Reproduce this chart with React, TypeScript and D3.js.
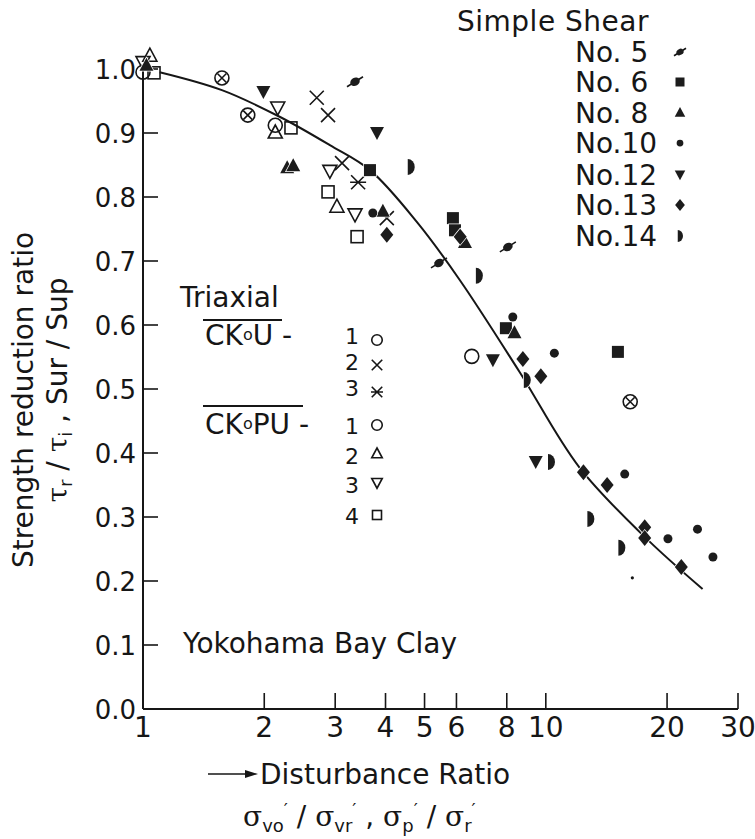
import React from 'react';
import * as d3 from 'd3';

const W = 755;
const H = 839;
const FONT = "'DejaVu Sans', 'Liberation Sans', sans-serif";
const INK = '#161616';

// axis ticks
const xTicks = [2, 3, 4, 5, 6, 8, 10, 20, 30];
const xTickLabels = ['2', '3', '4', '5', '6', '8', '10', '20', '30'];
const yTicks = [0, 0.1, 0.2, 0.3, 0.4, 0.5, 0.6, 0.7, 0.8, 0.9, 1.0];
const yTickLabels = ['0.0', '0.1', '0.2', '0.3', '0.4', '0.5', '0.6', '0.7', '0.8', '0.9', '1.0'];

// Triaxial series [disturbance ratio, strength ratio]
const ckoU1: [number, number][] = [[1.0, 0.995], [2.13, 0.912], [6.55, 0.551]];
const ckoU2: [number, number][] = [[2.7, 0.955], [2.88, 0.928], [3.12, 0.853], [4.03, 0.767]];
const ckoU3: [number, number][] = [[3.42, 0.823]];
const ckoPU1: [number, number][] = [];
const ckoPU2: [number, number][] = [[1.04, 1.02], [2.13, 0.9], [3.03, 0.784]];
const ckoPU3: [number, number][] = [[1.0, 1.01], [2.16, 0.939], [2.91, 0.84], [3.36, 0.772]];
const ckoPU4: [number, number][] = [[1.065, 0.994], [2.33, 0.908], [2.88, 0.808], [3.4, 0.738]];
const circledCross: [number, number][] = [[1.57, 0.986], [1.82, 0.928], [16.2, 0.48]];

// Simple shear series
const no5: [number, number][] = [[3.36, 0.98], [5.43, 0.697], [8.05, 0.722]];
const no6: [number, number][] = [[3.66, 0.842], [5.88, 0.767], [5.95, 0.748], [7.96, 0.595], [15.1, 0.558]];
const no8: [number, number][] = [[1.02, 1.005], [2.28, 0.845], [2.36, 0.848], [3.94, 0.777], [6.3, 0.728], [8.36, 0.587]];
const no10: [number, number][] = [[3.72, 0.775], [8.28, 0.6125], [10.5, 0.556], [15.7, 0.367], [20.1, 0.266], [23.8, 0.281], [26.0, 0.2375]];
const no12: [number, number][] = [[1.99, 0.964], [3.81, 0.9], [7.39, 0.545], [9.44, 0.386]];
const no13: [number, number][] = [[4.03, 0.741], [6.13, 0.738], [8.77, 0.547], [9.72, 0.52], [12.4, 0.37], [14.2, 0.35], [17.6, 0.284], [17.6, 0.267], [21.7, 0.222]];
const no14: [number, number][] = [[4.62, 0.847], [6.82, 0.677], [8.97, 0.514], [10.3, 0.386], [12.9, 0.297], [15.4, 0.252]];
const speck: [number, number][] = [[16.4, 0.205]];

// fitted curve
const curvePts: [number, number][] = [
  [1.1, 0.995], [1.57, 0.967], [2.19, 0.925], [2.91, 0.881], [3.66, 0.842],
  [4.8, 0.76], [6.12, 0.67], [8.6, 0.527], [12.1, 0.378], [17.6, 0.269], [24.5, 0.1875],
];

const triaxialLabels = ['1', '2', '3', '1', '2', '3', '4'];
const triaxialSymbols = ['circle', 'cross', 'asterisk', 'circle', 'triUp', 'triDown', 'square'];
const shearLabels = ['No. 5', 'No. 6', 'No. 8', 'No.10', 'No.12', 'No.13', 'No.14'];
const shearSymbols = ['planet', 'sqF', 'triUpF', 'dotF', 'triDownF', 'diamondF', 'halfF'];

const seriesList: { data: [number, number][]; sym: string }[] = [
  { data: ckoU1, sym: 'circle' },
  { data: ckoU2, sym: 'cross' },
  { data: ckoU3, sym: 'asterisk' },
  { data: ckoPU1, sym: 'circle' },
  { data: ckoPU2, sym: 'triUp' },
  { data: ckoPU3, sym: 'triDown' },
  { data: ckoPU4, sym: 'square' },
  { data: circledCross, sym: 'circleX' },
  { data: no5, sym: 'planet' },
  { data: no6, sym: 'sqF' },
  { data: no8, sym: 'triUpF' },
  { data: no10, sym: 'dotF' },
  { data: no12, sym: 'triDownF' },
  { data: no13, sym: 'diamondF' },
  { data: no14, sym: 'halfF' },
  { data: speck, sym: 'speck' },
];

function Marker({ type, cx, cy, s = 1 }: { type: string; cx: number; cy: number; s?: number }) {
  const sw = 1.6;
  const t = `translate(${cx},${cy}) scale(${s})`;
  const open = { fill: 'none', stroke: INK, strokeWidth: sw / s };
  const filled = { fill: '#1c1c1c', stroke: 'white', strokeWidth: 1.5 / s, paintOrder: 'stroke' as any };
  switch (type) {
    case 'circle':
      return <circle transform={t} r={7} {...open} />;
    case 'circleX':
      return (
        <g transform={t} {...open}>
          <circle r={7} />
          <path d="M-4.5,-4.5L4.5,4.5M-4.5,4.5L4.5,-4.5" />
        </g>
      );
    case 'triUp':
      return <path transform={t} d="M0,-8L7,5L-7,5Z" {...open} />;
    case 'triDown':
      return <path transform={t} d="M0,7L7,-6L-7,-6Z" {...open} />;
    case 'square':
      return <rect transform={t} x={-6} y={-6} width={12} height={12} {...open} />;
    case 'cross':
      return <path transform={t} d="M-7,-7L7,7M-7,7L7,-7" {...open} />;
    case 'asterisk':
      return <path transform={t} d="M-7,-7L7,7M-7,7L7,-7M-8,0L8,0" {...open} />;
    case 'sqF':
      return <rect transform={t} x={-6} y={-6} width={12} height={12} {...filled} />;
    case 'triUpF':
      return <path transform={t} d="M0,-8L7,5L-7,5Z" {...filled} />;
    case 'triDownF':
      return <path transform={t} d="M0,7L7,-6L-7,-6Z" {...filled} />;
    case 'dotF':
      return <circle transform={t} r={4.5} {...filled} />;
    case 'diamondF':
      return <path transform={t} d="M0,-8L6.5,0L0,8L-6.5,0Z" {...filled} />;
    case 'halfF':
      return <path transform={t} d="M-3,-8A7,8 0 0 1 -3,8Z" {...filled} />;
    case 'planet':
      return (
        <g transform={t}>
          <path d="M-8,5L8,-5" stroke={INK} strokeWidth={1.6 / s} />
          <ellipse rx={5} ry={4} transform="rotate(-30)" fill="#1c1c1c" />
        </g>
      );
    case 'speck':
      return <circle transform={t} r={1.6} fill={INK} />;
    default:
      return null;
  }
}

export default function App() {
  const x = d3.scaleLog().domain([1, 30]).range([143, 738]);
  const y = d3.scaleLinear().domain([0, 1]).range([709, 69]);

  const line = d3
    .line<[number, number]>()
    .x((d) => x(d[0]))
    .y((d) => y(d[1]))
    .curve(d3.curveCatmullRom.alpha(0.5));

  const shearBase = [62, 92, 123, 153, 185, 215, 246];
  const triBase = [344, 370, 396, 434, 464, 493, 524];
  const triSymY = [340, 365, 392, 425, 454, 483, 515];

  const serif = "'DejaVu Serif', serif";

  return (
    <svg
      width={W}
      height={H}
      style={{ position: 'absolute', left: 0, top: 0, background: 'white' }}
      fontFamily={FONT}
    >
      <rect width={W} height={H} fill="white" />

      {/* axes */}
      <line x1={x(1)} x2={x(1)} y1={y(0)} y2={y(1)} stroke={INK} strokeWidth={2} />
      <line x1={x(1)} x2={x(30)} y1={y(0)} y2={y(0)} stroke={INK} strokeWidth={2} />
      {yTicks.map((v, i) => (
        <g key={'yt' + i}>
          {v > 0 && <line x1={x(1)} x2={x(1) + 15} y1={y(v)} y2={y(v)} stroke={INK} strokeWidth={1.6} />}
          <text x={136} y={y(v) + 9.5} textAnchor="end" fontSize={26} fill={INK}>
            {yTickLabels[i]}
          </text>
        </g>
      ))}
      {xTicks.map((v, i) => (
        <g key={'xt' + i}>
          <line x1={x(v)} x2={x(v)} y1={y(0)} y2={y(0) - 16} stroke={INK} strokeWidth={1.6} />
          <text x={x(v)} y={737} textAnchor="middle" fontSize={28} fill={INK}>
            {xTickLabels[i]}
          </text>
        </g>
      ))}
      <text x={x(1)} y={737} textAnchor="middle" fontSize={28} fill={INK}>1</text>

      {/* fitted curve */}
      <path d={line(curvePts) || ''} fill="none" stroke={INK} strokeWidth={2} />

      {/* data */}
      {seriesList.map((s, si) =>
        s.data.map((d, di) => <Marker key={si + '-' + di} type={s.sym} cx={x(d[0])} cy={y(d[1])} />)
      )}

      {/* Simple shear legend */}
      <text x={457} y={31} fontSize={28} fill={INK} letterSpacing={0.5}>Simple Shear</text>
      {shearLabels.map((lab, i) => (
        <g key={'sl' + i}>
          <text x={575} y={shearBase[i]} fontSize={28} fill={INK}>{lab}</text>
          <Marker type={shearSymbols[i]} cx={680} cy={shearBase[i] - 10} s={0.75} />
        </g>
      ))}

      {/* Triaxial legend */}
      <text x={180} y={307} fontSize={28} fill={INK}>Triaxial</text>
      <line x1={203} x2={282} y1={320} y2={320} stroke={INK} strokeWidth={2} />
      <text x={205} y={345} fontSize={28} fill={INK}>
        CK<tspan fontSize={16} dy={-5}>o</tspan><tspan dy={5}>U -</tspan>
      </text>
      <line x1={203} x2={303} y1={406} y2={406} stroke={INK} strokeWidth={2} />
      <text x={205} y={434} fontSize={28} fill={INK}>
        CK<tspan fontSize={16} dy={-5}>o</tspan><tspan dy={5}>PU -</tspan>
      </text>
      {triaxialLabels.map((lab, i) => (
        <g key={'tl' + i}>
          <text x={359} y={triBase[i]} textAnchor="end" fontSize={22} fill={INK}>{lab}</text>
          <Marker type={triaxialSymbols[i]} cx={377} cy={triSymY[i]} s={0.75} />
        </g>
      ))}

      <text x={183} y={653} fontSize={28} fill={INK}>Yokohama Bay Clay</text>

      {/* y-axis title */}
      <text transform="translate(33,400) rotate(-90)" textAnchor="middle" fontSize={28} fill={INK}>
        Strength reduction ratio
      </text>
      <text transform="translate(67,390) rotate(-90)" textAnchor="middle" fontSize={28} fill={INK}>
        <tspan fontFamily={serif}>τ</tspan>
        <tspan fontSize={18} dy={5}>r</tspan>
        <tspan dy={-5}> / </tspan>
        <tspan fontFamily={serif}>τ</tspan>
        <tspan fontSize={18} dy={5}>i</tspan>
        <tspan dy={-5}> ,  Sur / Sup</tspan>
      </text>

      {/* x-axis title */}
      <line x1={208} x2={250} y1={774} y2={774} stroke={INK} strokeWidth={1.6} />
      <path d="M245,770L258,774L245,778Z" fill={INK} />
      <text x={260} y={784} fontSize={28} fill={INK}>Disturbance Ratio</text>
      <text x={243} y={826} fontSize={28} fill={INK}>
        <tspan fontFamily={serif}>σ</tspan>
        <tspan fontSize={18} dy={6}>vo</tspan>
        <tspan fontSize={18} dy={-16}>′</tspan>
        <tspan dy={10}> / </tspan>
        <tspan fontFamily={serif}>σ</tspan>
        <tspan fontSize={18} dy={6}>vr</tspan>
        <tspan fontSize={18} dy={-16}>′</tspan>
        <tspan dy={10}> , </tspan>
        <tspan fontFamily={serif}>σ</tspan>
        <tspan fontSize={18} dy={6}>p</tspan>
        <tspan fontSize={18} dy={-16}>′</tspan>
        <tspan dy={10}> / </tspan>
        <tspan fontFamily={serif}>σ</tspan>
        <tspan fontSize={18} dy={6}>r</tspan>
        <tspan fontSize={18} dy={-16}>′</tspan>
      </text>
    </svg>
  );
}
